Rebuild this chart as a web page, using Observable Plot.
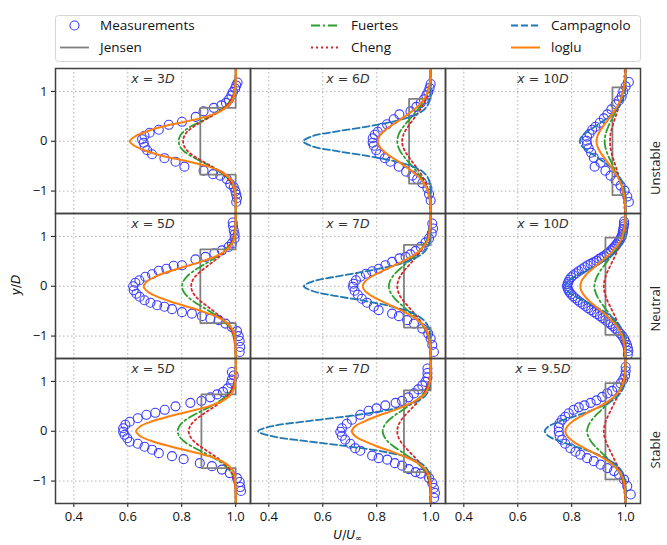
<!DOCTYPE html>
<html>
<head>
<meta charset="utf-8">
<script src="https://cdn.jsdelivr.net/npm/d3@7"></script>
<script src="https://cdn.jsdelivr.net/npm/@observablehq/plot@0.6"></script>
<style>
  body { margin: 0; background: #fff; }
  #fig { position: relative; width: 667px; height: 545px; font-family: "Open Sans", sans-serif; }
  .math { position: absolute; font-family: "DejaVu Sans", sans-serif; font-size: 12px; color: #111; white-space: nowrap; }
  .math i { font-style: italic; }
  .math sub { font-size: 8px; vertical-align: -2px; }
</style>
</head>
<body>
<div id="fig"></div>
<script>
// Wake-deficit profiles behind a turbine for three atmospheric stabilities.
const stabilities = ["Unstable", "Neutral", "Stable"];
// Downstream distance of each panel (row-major: Unstable, Neutral, Stable)
const distances = ["3", "6", "10", "5", "7", "10", "5", "7", "9.5"];
const xTicks = [0.4, 0.6, 0.8, 1.0];
const yTicks = [-1, 0, 1];

// Model profiles are symmetric about the hub axis: values listed on the upper half, y/D levels below.
const halfY = [0, 0.1, 0.2, 0.3, 0.4, 0.5, 0.6, 0.7, 0.8, 0.9, 1.0, 1.2, 1.45];

const loglu = [
  [0.607, 0.628, 0.672, 0.733, 0.82, 0.894, 0.943, 0.97, 0.986, 0.993, 0.997, 1.0, 1.0],
  [0.804, 0.81, 0.826, 0.85, 0.878, 0.905, 0.93, 0.952, 0.969, 0.981, 0.99, 0.998, 1.0],
  [0.892, 0.895, 0.904, 0.916, 0.93, 0.944, 0.957, 0.969, 0.978, 0.986, 0.991, 0.997, 1.0],
  [0.659, 0.672, 0.705, 0.755, 0.815, 0.875, 0.925, 0.96, 0.98, 0.991, 0.996, 0.999, 1.0],
  [0.748, 0.757, 0.782, 0.818, 0.858, 0.897, 0.93, 0.957, 0.975, 0.987, 0.993, 0.998, 1.0],
  [0.832, 0.836, 0.848, 0.866, 0.888, 0.91, 0.932, 0.951, 0.967, 0.979, 0.988, 0.996, 0.999],
  [0.631, 0.647, 0.69, 0.755, 0.83, 0.9, 0.948, 0.976, 0.99, 0.996, 0.998, 1.0, 1.0],
  [0.708, 0.72, 0.755, 0.8, 0.852, 0.9, 0.94, 0.968, 0.985, 0.993, 0.997, 1.0, 1.0],
  [0.776, 0.784, 0.804, 0.834, 0.869, 0.904, 0.935, 0.958, 0.975, 0.986, 0.993, 0.998, 1.0]
];

const fuertes = [
  [0.789, 0.793, 0.808, 0.835, 0.87, 0.905, 0.937, 0.962, 0.978, 0.989, 0.995, 0.999, 1.0],
  [0.876, 0.879, 0.887, 0.9, 0.915, 0.931, 0.947, 0.961, 0.973, 0.982, 0.989, 0.997, 1.0],
  [0.922, 0.924, 0.929, 0.936, 0.945, 0.954, 0.963, 0.971, 0.979, 0.985, 0.99, 0.996, 0.999],
  [0.801, 0.806, 0.82, 0.843, 0.872, 0.903, 0.932, 0.956, 0.973, 0.985, 0.992, 0.998, 1.0],
  [0.845, 0.849, 0.86, 0.876, 0.897, 0.918, 0.939, 0.957, 0.972, 0.983, 0.99, 0.997, 1.0],
  [0.884, 0.887, 0.894, 0.905, 0.918, 0.932, 0.946, 0.959, 0.97, 0.979, 0.986, 0.995, 0.999],
  [0.785, 0.791, 0.808, 0.836, 0.871, 0.907, 0.939, 0.963, 0.98, 0.99, 0.995, 0.999, 1.0],
  [0.822, 0.827, 0.84, 0.862, 0.889, 0.916, 0.942, 0.963, 0.978, 0.988, 0.994, 0.999, 1.0],
  [0.857, 0.861, 0.871, 0.886, 0.905, 0.924, 0.943, 0.96, 0.973, 0.983, 0.99, 0.997, 1.0]
];

const cheng = [
  [0.805, 0.809, 0.822, 0.846, 0.877, 0.91, 0.94, 0.963, 0.979, 0.989, 0.995, 0.999, 1.0],
  [0.894, 0.897, 0.905, 0.917, 0.93, 0.944, 0.957, 0.969, 0.978, 0.986, 0.991, 0.997, 1.0],
  [0.942, 0.943, 0.946, 0.951, 0.957, 0.963, 0.969, 0.975, 0.981, 0.986, 0.99, 0.994, 0.997],
  [0.835, 0.839, 0.851, 0.87, 0.894, 0.918, 0.941, 0.96, 0.975, 0.986, 0.992, 0.998, 1.0],
  [0.876, 0.879, 0.887, 0.9, 0.916, 0.932, 0.948, 0.962, 0.974, 0.984, 0.99, 0.997, 1.0],
  [0.919, 0.921, 0.926, 0.933, 0.942, 0.951, 0.96, 0.968, 0.976, 0.982, 0.987, 0.994, 0.998],
  [0.826, 0.831, 0.845, 0.868, 0.895, 0.923, 0.948, 0.968, 0.982, 0.99, 0.995, 0.999, 1.0],
  [0.876, 0.879, 0.888, 0.902, 0.919, 0.937, 0.954, 0.968, 0.979, 0.987, 0.993, 0.998, 1.0],
  [0.919, 0.921, 0.926, 0.934, 0.943, 0.952, 0.961, 0.97, 0.978, 0.984, 0.989, 0.995, 0.999]
];

// Campagnolo's profile falls outside the axes at the closest distances (null = not drawn)
const campagnolo = [
  null,
  [0.528, 0.56, 0.655, 0.77, 0.865, 0.93, 0.968, 0.986, 0.995, 0.998, 1.0, 1.0, 1.0],
  [0.83, 0.838, 0.86, 0.888, 0.915, 0.94, 0.96, 0.975, 0.986, 0.993, 0.997, 1.0, 1.0],
  null,
  [0.53, 0.565, 0.655, 0.76, 0.85, 0.915, 0.955, 0.978, 0.99, 0.996, 0.998, 1.0, 1.0],
  [0.776, 0.786, 0.812, 0.848, 0.885, 0.918, 0.945, 0.965, 0.979, 0.988, 0.994, 0.999, 1.0],
  null,
  [0.36, 0.41, 0.54, 0.69, 0.815, 0.9, 0.95, 0.978, 0.991, 0.997, 0.999, 1.0, 1.0],
  [0.70, 0.715, 0.755, 0.81, 0.865, 0.91, 0.946, 0.97, 0.985, 0.993, 0.997, 1.0, 1.0]
];

// Jensen top-hat model: wake velocity and wake half-width (y/D)
const jensenU = [0.869, 0.92, 0.951, 0.869, 0.901, 0.925, 0.873, 0.901, 0.925];
const jensenR = [0.67, 0.85, 1.08, 0.74, 0.83, 0.975, 0.74, 0.82, 0.965];

// Measured profiles: [U/U∞, y/D]
const measurements = [
  [[1.007,1.18],[1.002,1.12],[0.998,1.06],[0.99,0.99],[0.984,0.92],[0.975,0.84],[0.964,0.77],[0.947,0.72],[0.919,0.67],[0.881,0.60],[0.852,0.49],[0.801,0.39],[0.752,0.33],[0.715,0.23],[0.681,0.17],[0.662,0.11],[0.653,0.04],[0.659,-0.03],[0.663,-0.11],[0.672,-0.18],[0.69,-0.26],[0.736,-0.34],[0.777,-0.41],[0.81,-0.51],[0.881,-0.59],[0.916,-0.66],[0.943,-0.69],[0.967,-0.76],[0.98,-0.86],[0.993,-0.92],[0.999,-1.0],[1.002,-1.07],[1.005,-1.14],[1.002,-1.22]],
  [[1.0,1.15],[0.996,1.07],[0.991,0.99],[0.984,0.92],[0.975,0.84],[0.963,0.77],[0.947,0.69],[0.925,0.60],[0.884,0.54],[0.863,0.44],[0.838,0.34],[0.82,0.27],[0.804,0.19],[0.793,0.13],[0.785,0.06],[0.785,-0.03],[0.789,-0.09],[0.798,-0.18],[0.81,-0.26],[0.83,-0.34],[0.851,-0.41],[0.882,-0.51],[0.909,-0.61],[0.932,-0.69],[0.95,-0.76],[0.969,-0.84],[0.988,-0.94],[0.994,-1.06],[1.0,-1.19]],
  [[1.012,1.19],[1.0,1.10],[0.991,1.0],[0.985,0.90],[0.975,0.82],[0.963,0.74],[0.947,0.64],[0.932,0.54],[0.919,0.46],[0.904,0.37],[0.888,0.29],[0.876,0.23],[0.866,0.15],[0.857,0.09],[0.855,0.01],[0.857,-0.06],[0.863,-0.14],[0.872,-0.23],[0.882,-0.33],[0.907,-0.43],[0.885,-0.51],[0.925,-0.59],[0.944,-0.69],[0.963,-0.79],[0.981,-0.89],[0.996,-0.99],[1.006,-1.11],[1.012,-1.22]],
  [[0.989,1.28],[0.99,1.21],[0.993,1.12],[0.996,1.04],[0.996,0.96],[0.986,0.86],[0.974,0.79],[0.949,0.72],[0.921,0.66],[0.888,0.59],[0.851,0.54],[0.801,0.42],[0.77,0.41],[0.743,0.35],[0.715,0.31],[0.69,0.24],[0.665,0.19],[0.643,0.12],[0.628,0.07],[0.62,0.0],[0.622,-0.08],[0.632,-0.15],[0.644,-0.21],[0.662,-0.28],[0.684,-0.33],[0.709,-0.38],[0.736,-0.41],[0.764,-0.46],[0.801,-0.52],[0.838,-0.55],[0.875,-0.6],[0.906,-0.65],[0.937,-0.68],[0.962,-0.75],[0.986,-0.82],[1.005,-0.9],[1.011,-1.0],[1.015,-1.1],[1.017,-1.22],[1.015,-1.32]],
  [[1.006,1.26],[1.009,1.16],[1.004,1.06],[0.994,0.96],[0.981,0.88],[0.963,0.79],[0.944,0.71],[0.925,0.64],[0.907,0.59],[0.884,0.56],[0.857,0.49],[0.832,0.42],[0.807,0.35],[0.783,0.30],[0.76,0.25],[0.739,0.19],[0.723,0.12],[0.714,0.05],[0.712,-0.01],[0.718,-0.09],[0.73,-0.17],[0.745,-0.25],[0.764,-0.33],[0.789,-0.41],[0.807,-0.48],[0.857,-0.55],[0.882,-0.6],[0.913,-0.68],[0.938,-0.75],[0.969,-0.85],[0.991,-0.95],[1.0,-1.05],[1.006,-1.18],[1.012,-1.32]],
  [[0.994,1.30],[0.994,1.25],[0.993,1.20],[0.991,1.15],[0.99,1.10],[0.988,1.05],[0.985,1.0],[0.981,0.96],[0.977,0.92],[0.972,0.88],[0.966,0.84],[0.96,0.80],[0.953,0.76],[0.946,0.72],[0.938,0.68],[0.93,0.65],[0.921,0.61],[0.912,0.58],[0.902,0.55],[0.892,0.51],[0.881,0.48],[0.87,0.45],[0.859,0.42],[0.848,0.38],[0.837,0.34],[0.826,0.30],[0.816,0.26],[0.806,0.22],[0.798,0.18],[0.791,0.13],[0.787,0.08],[0.784,0.04],[0.783,0.0],[0.785,-0.04],[0.788,-0.08],[0.792,-0.12],[0.798,-0.16],[0.805,-0.20],[0.813,-0.24],[0.822,-0.28],[0.831,-0.32],[0.841,-0.36],[0.851,-0.40],[0.861,-0.44],[0.872,-0.48],[0.883,-0.52],[0.894,-0.56],[0.905,-0.60],[0.915,-0.64],[0.925,-0.68],[0.935,-0.72],[0.944,-0.76],[0.953,-0.80],[0.962,-0.85],[0.971,-0.90],[0.98,-0.95],[0.988,-1.0],[0.995,-1.06],[1.0,-1.12],[1.005,-1.18],[1.008,-1.24],[1.01,-1.30],[1.008,-1.37]],
  [[0.986,1.19],[0.993,1.12],[0.986,1.04],[0.983,0.96],[0.97,0.86],[0.953,0.79],[0.931,0.74],[0.906,0.68],[0.873,0.61],[0.832,0.57],[0.777,0.5],[0.737,0.43],[0.702,0.37],[0.669,0.33],[0.637,0.26],[0.607,0.19],[0.591,0.13],[0.583,0.06],[0.583,-0.01],[0.588,-0.07],[0.598,-0.14],[0.607,-0.21],[0.637,-0.25],[0.662,-0.31],[0.69,-0.37],[0.715,-0.44],[0.764,-0.5],[0.807,-0.56],[0.867,-0.64],[0.912,-0.7],[0.949,-0.77],[0.978,-0.84],[1.005,-0.94],[1.015,-1.02],[1.017,-1.12],[1.02,-1.2]],
  [[0.988,1.26],[0.988,1.17],[0.988,1.08],[0.981,0.99],[0.969,0.92],[0.954,0.84],[0.938,0.76],[0.917,0.68],[0.894,0.61],[0.87,0.57],[0.832,0.52],[0.799,0.46],[0.77,0.41],[0.739,0.33],[0.708,0.23],[0.689,0.15],[0.671,0.06],[0.665,-0.01],[0.671,-0.09],[0.683,-0.17],[0.702,-0.25],[0.72,-0.34],[0.739,-0.39],[0.783,-0.49],[0.807,-0.54],[0.839,-0.57],[0.867,-0.64],[0.894,-0.69],[0.919,-0.76],[0.944,-0.82],[0.963,-0.85],[0.994,-0.94],[1.006,-1.04],[1.012,-1.14],[1.016,-1.24],[1.013,-1.34]],
  [[1.0,1.29],[1.0,1.21],[0.998,1.12],[0.991,1.04],[0.981,0.96],[0.969,0.88],[0.95,0.81],[0.932,0.76],[0.913,0.69],[0.892,0.62],[0.87,0.57],[0.847,0.52],[0.826,0.48],[0.807,0.43],[0.789,0.36],[0.776,0.29],[0.764,0.23],[0.755,0.16],[0.752,0.08],[0.752,-0.01],[0.755,-0.09],[0.764,-0.17],[0.776,-0.25],[0.795,-0.34],[0.814,-0.41],[0.832,-0.47],[0.857,-0.54],[0.882,-0.6],[0.907,-0.67],[0.932,-0.74],[0.957,-0.8],[0.975,-0.87],[0.994,-0.97],[1.006,-1.1],[1.019,-1.27]]
];

const legendNames = ["Measurements", "Jensen", "Fuertes", "Cheng", "Campagnolo", "loglu"];
const colors = {
  Measurements: "#3c3cff", Jensen: "#808080", Fuertes: "#2ca02c",
  Cheng: "#d62728", Campagnolo: "#1f77b4", loglu: "#ff7f0e"
};
const dashes = { Jensen: null, Fuertes: "9,3,2,3", Cheng: "2,3", Campagnolo: "7,3", loglu: null };
const lineWidth = 1.8;

// ---- build tidy tables ----
const panelOf = p => ({ fx: p % 3, fy: stabilities[Math.floor(p / 3)] });

function fullProfile(values, p, model) {
  const out = [];
  for (let i = halfY.length - 1; i >= 1; i--) out.push({ ...panelOf(p), model, p, y: -halfY[i], u: values[i] });
  for (let i = 0; i < halfY.length; i++) out.push({ ...panelOf(p), model, p, y: halfY[i], u: values[i] });
  return out;
}

const profiles = { Fuertes: fuertes, Cheng: cheng, Campagnolo: campagnolo, loglu: loglu };
const profileRows = {};
for (const [name, arr] of Object.entries(profiles)) {
  profileRows[name] = arr.flatMap((v, p) => (v ? fullProfile(v, p, name) : []));
}

const jensenRows = jensenU.flatMap((uj, p) => {
  const r = jensenR[p];
  return [[1, 1.45], [1, r], [uj, r], [uj, -r], [1, -r], [1, -1.45]]
    .map(([u, y]) => ({ ...panelOf(p), p, u, y }));
});

const measRows = measurements.flatMap((pts, p) => pts.map(([u, y]) => ({ ...panelOf(p), u, y })));

const titleRows = distances.map((d, p) => ({ ...panelOf(p), text: `x = ${d}D` }));
const rowLabels = stabilities.map(s => ({ fx: 2, fy: s, text: s }));

const lineMark = name => Plot.line(profileRows[name], {
  x: "u", y: "y", z: "p", fx: "fx", fy: "fy",
  stroke: colors[name], strokeWidth: name === "loglu" ? 2 : lineWidth,
  strokeDasharray: dashes[name], curve: "catmull-rom"
});

const chart = Plot.plot({
  width: 667,
  height: 545,
  marginTop: 67,
  marginBottom: 41,
  marginLeft: 55,
  marginRight: 27,
  style: { fontFamily: "'Open Sans', sans-serif", fontSize: "13px", background: "transparent", overflow: "visible", color: "#111" },
  fx: { domain: [0, 1, 2], padding: 0, axis: null },
  fy: { domain: stabilities, padding: 0, axis: null },
  x: { domain: [0.332, 1.055], ticks: xTicks, tickFormat: ".1f", label: null, tickSize: 4, tickPadding: 4 },
  y: { domain: [-1.45, 1.46], ticks: yTicks, tickFormat: "d", label: null, tickSize: 4, tickPadding: 4 },
  marks: [
    Plot.gridX(xTicks, { stroke: "#b0b0b0", strokeOpacity: 1, strokeDasharray: "1.5,2.5" }),
    Plot.gridY(yTicks, { stroke: "#b0b0b0", strokeOpacity: 1, strokeDasharray: "1.5,2.5" }),
    Plot.dot(measRows, { x: "u", y: "y", fx: "fx", fy: "fy", r: 4.5, stroke: colors.Measurements, strokeWidth: 1.1, fill: "none" }),
    Plot.line(jensenRows, { x: "u", y: "y", z: "p", fx: "fx", fy: "fy", stroke: colors.Jensen, strokeWidth: lineWidth }),
    lineMark("Fuertes"),
    lineMark("Cheng"),
    lineMark("Campagnolo"),
    lineMark("loglu"),
    Plot.frame({ stroke: "#404040", strokeWidth: 1.5 }),
    Plot.text(titleRows, { fx: "fx", fy: "fy", text: "text", frameAnchor: "top", dy: 6, fontFamily: "DejaVu Sans", fontSize: 12.5, fill: "#333" }),
    Plot.text(rowLabels, { fx: "fx", fy: "fy", text: "text", frameAnchor: "right", dx: 15, rotate: -90, fontSize: 13, fill: "#222" })
  ]
});

const fig = document.getElementById("fig");
chart.style.position = "absolute";
chart.style.left = "0px";
chart.style.top = "0px";
fig.appendChild(chart);

// Panel titles: italic x and D as in the math notation
d3.select(chart).selectAll("text").each(function () {
  const m = this.textContent.match(/^x = (.+)D$/);
  if (!m) return;
  const t = d3.select(this).text(null);
  t.append("tspan").attr("font-style", "italic").text("x");
  t.append("tspan").text(` = ${m[1]}`);
  t.append("tspan").attr("font-style", "italic").text("D");
});

// Axis titles
const xl = document.createElement("div");
xl.className = "math";
xl.style.left = "55px"; xl.style.width = "585px"; xl.style.textAlign = "center"; xl.style.top = "528px";
xl.innerHTML = "<i>U</i>/<i>U</i><sub>∞</sub>";
fig.appendChild(xl);

const yl = document.createElement("div");
yl.className = "math";
yl.style.left = "16px"; yl.style.top = "285px";
yl.style.transform = "translate(-50%, -50%) rotate(-90deg)";
yl.innerHTML = "<i>y</i>/<i>D</i>";
fig.appendChild(yl);

// Legend box above the panels
const leg = d3.select(fig).append("svg")
  .attr("width", 667).attr("height", 66)
  .style("position", "absolute").style("left", "0px").style("top", "0px");
leg.append("rect").attr("x", 55.5).attr("y", 15.5).attr("width", 585).attr("height", 46).attr("rx", 3)
  .attr("fill", "white").attr("stroke", "#d5d5d5");
const colX = [60, 311, 511];
const rowY = [25.5, 47.5];
legendNames.forEach((name, i) => {
  const cx = colX[Math.floor(i / 2)], cy = rowY[i % 2];
  if (name === "Measurements") {
    leg.append("circle").attr("cx", cx + 14.5).attr("cy", cy).attr("r", 4.5)
      .attr("fill", "none").attr("stroke", colors[name]).attr("stroke-width", 1.1);
  } else {
    leg.append("line").attr("x1", cx).attr("x2", cx + 29).attr("y1", cy).attr("y2", cy)
      .attr("stroke", colors[name]).attr("stroke-width", name === "loglu" ? 2 : lineWidth)
      .attr("stroke-dasharray", dashes[name]);
  }
  leg.append("text").attr("x", cx + 40).attr("y", cy).attr("dy", "0.35em")
    .attr("font-family", "'Open Sans', sans-serif").attr("font-size", 13.5).attr("fill", "#111").text(name);
});
</script>
</body>
</html>
